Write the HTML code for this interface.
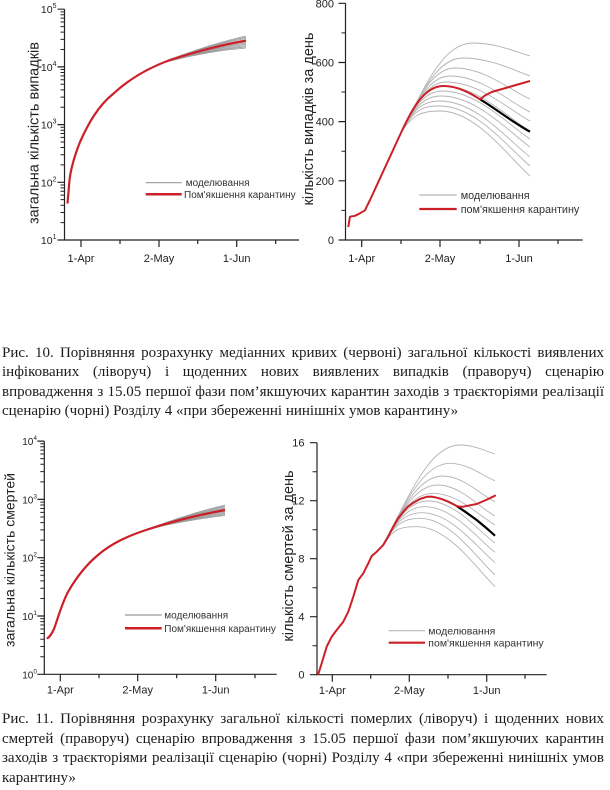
<!DOCTYPE html>
<html>
<head>
<meta charset="utf-8">
<style>
  html,body{margin:0;padding:0;background:#fff;}
  body{width:610px;height:790px;position:relative;overflow:hidden;}
  svg{position:absolute;left:0;top:0;}
  .cap{position:absolute;left:2px;width:602px;font-family:"Liberation Serif","Noto Serif CJK SC",serif;font-size:15px;color:#1c1c1c;}
  .cap div{white-space:nowrap;}
  .cap .j{text-align:justify;text-align-last:justify;}
  .c1{top:343.5px;line-height:19.5px;}
  .c2{top:710.3px;line-height:19.5px;}
</style>
</head>
<body>
<svg width="610" height="790" viewBox="0 0 610 790" xmlns="http://www.w3.org/2000/svg" font-family="Liberation Sans, Noto Sans CJK SC, sans-serif">
  <!-- ========== TOP-LEFT ========== -->
  <g fill="none" stroke="#222" stroke-width="1.2">
    <path d="M64.5,9.2V240H299"/>
    <path d="M57.5,240H64.5M57.5,182.3H64.5M57.5,124.6H64.5M57.5,66.9H64.5M57.5,9.2H64.5"/>
    <path stroke-width="1" d="M60.5,222.63H64.5M60.5,212.47H64.5M60.5,205.26H64.5M60.5,199.67H64.5M60.5,195.11H64.5M60.5,191.24H64.5M60.5,187.9H64.5M60.5,184.95H64.5
      M60.5,164.93H64.5M60.5,154.77H64.5M60.5,147.56H64.5M60.5,141.97H64.5M60.5,137.41H64.5M60.5,133.54H64.5M60.5,130.2H64.5M60.5,127.25H64.5
      M60.5,107.23H64.5M60.5,97.07H64.5M60.5,89.86H64.5M60.5,84.27H64.5M60.5,79.71H64.5M60.5,75.84H64.5M60.5,72.5H64.5M60.5,69.55H64.5
      M60.5,49.53H64.5M60.5,39.37H64.5M60.5,32.16H64.5M60.5,26.57H64.5M60.5,22.01H64.5M60.5,18.14H64.5M60.5,14.8H64.5M60.5,11.85H64.5"/>
    <path d="M81,240v7M159,240v7M236.7,240v7M120,240v4M197.7,240v4M275.7,240v4"/>
  </g>
  <g font-size="10.5" fill="#222" text-anchor="end">
    <text x="56.5" y="244">10<tspan font-size="7" dy="-5">1</tspan></text>
    <text x="56.5" y="186.3">10<tspan font-size="7" dy="-5">2</tspan></text>
    <text x="56.5" y="128.6">10<tspan font-size="7" dy="-5">3</tspan></text>
    <text x="56.5" y="70.9">10<tspan font-size="7" dy="-5">4</tspan></text>
    <text x="56.5" y="13.2">10<tspan font-size="7" dy="-5">5</tspan></text>
  </g>
  <g font-size="11" fill="#222" text-anchor="middle">
    <text x="81" y="262">1-Apr</text>
    <text x="159" y="262">2-May</text>
    <text x="236.7" y="262">1-Jun</text>
  </g>
  <text transform="translate(38.5,133) rotate(-90)" text-anchor="middle" font-size="14.5" fill="#222">загальна кількість випадків</text>
  <g fill="none" stroke="#9a9a9a" stroke-width="0.8">
    <path d="M142,73 C152,68 161,63 170,59.3 C195,50.35 220,41.7 246,36"/>
    <path d="M142,73 C152,68 161,63 170,59.5 C195,50.8 220,42.55 246,37.2"/>
    <path d="M142,73 C152,68 161,63 170,59.65 C195,51.2 220,43.4 246,38.4"/>
    <path d="M142,73 C152,68 161,63 170,59.8 C195,51.6 220,44.2 246,39.6"/>
    <path d="M142,73 C152,68 161,63 170,60 C195,52.05 220,45.05 246,40.8"/>
    <path d="M142,73 C152,68 161,63 170,60.2 C195,52.45 220,45.9 246,42"/>
    <path d="M142,73 C152,68 161,63 170,60.4 C195,52.9 220,46.75 246,43.2"/>
    <path d="M142,73 C152,68 161,63 170,60.55 C195,53.3 220,47.6 246,44.4"/>
    <path d="M142,73 C152,68 161,63 170,60.7 C195,53.7 220,48.45 246,45.6"/>
    <path d="M142,73 C152,68 161,63 170,60.9 C195,54.15 220,49.25 246,46.8"/>
    <path d="M142,73 C152,68 161,63 170,61.1 C195,54.55 220,50.1 246,48"/>
  </g>
  <path fill="none" stroke="#cc1f27" stroke-width="2.2" stroke-linejoin="round" d="M67.5,203.5 L69.5,180 C71,168 74,157 80,142 C88,124 98,106 113,94 C128,80 148,68 170,60 C195,52 220,45 246,40.7"/>
  <path d="M145.7,182.7H181.7" stroke="#9a9a9a" stroke-width="1.2"/>
  <path d="M145.7,194.3H181.7" stroke="#cc1f27" stroke-width="2.5"/>
  <g font-size="10" fill="#333">
    <text x="185.7" y="186.2">моделювання</text>
    <text x="184" y="197.8">Пом'якшення карантину</text>
  </g>

  <!-- ========== TOP-RIGHT ========== -->
  <g fill="none" stroke="#222" stroke-width="1.2">
    <path d="M345.5,3.3V240H582.7"/>
    <path d="M338.5,240H345.5M338.5,180.8H345.5M338.5,121.6H345.5M338.5,62.5H345.5M338.5,3.3H345.5"/>
    <path stroke-width="1" d="M341.5,210.4H345.5M341.5,151.2H345.5M341.5,92H345.5M341.5,32.9H345.5"/>
    <path d="M361.7,240v7M440,240v7M519,240v7M401,240v4M480,240v4M558,240v4"/>
  </g>
  <g font-size="11" fill="#222" text-anchor="end">
    <text x="334" y="244">0</text>
    <text x="334" y="184.8">200</text>
    <text x="334" y="125.6">400</text>
    <text x="334" y="66.5">600</text>
    <text x="334" y="7.3">800</text>
  </g>
  <g font-size="11" fill="#222" text-anchor="middle">
    <text x="361.7" y="262">1-Apr</text>
    <text x="440" y="262">2-May</text>
    <text x="519" y="262">1-Jun</text>
  </g>
  <text transform="translate(313,119) rotate(-90)" text-anchor="middle" font-size="14.5" fill="#222">кількість випадків за день</text>
  <g fill="none" stroke="#b4b4b4" stroke-width="0.9">
    <path d="M400,135 C425.6,83.8 443.8,43 473,43 C495.8,43 515.75,51.7 530,56"/>
    <path d="M400,135 C422,91 437.8,58 463,58 C489.8,58 513.25,70 530,76"/>
    <path d="M400,135 C419.25,96.5 433,68 455,68 C485,68 511.25,91.1 530,99"/>
    <path d="M400,135 C417.5,100 430,76 450,76 C482,76 510,102.4 530,112"/>
    <path d="M400,135 C416.1,102.8 427.6,82 446,82 C479.6,82 509,109.7 530,121"/>
    <path d="M400,135 C415,105 425.8,86 443,86 C477.8,86 508.25,118 530,131"/>
    <path d="M400,135 C414.7,105.6 425.2,91 442,91 C477.2,91 508,124.5 530,139"/>
    <path d="M400,135 C414.35,106.3 424.6,96 441,96 C476.6,96 507.75,131 530,147"/>
    <path d="M400,135 C414,107 424,101 440,101 C476,101 507.5,139.5 530,157"/>
    <path d="M400,135 C414,108 424,106 440,106 C476,106 507.5,147.1 530,166"/>
    <path d="M400,135 C412,113 424,111 440,111 C476,111 507.5,155.75 530,176"/>
  </g>
  <path fill="none" stroke="#000" stroke-width="2.2" d="M480,99.3 C495,108 512,122 530,131.7"/>
  <path fill="none" stroke="#cc1f27" stroke-width="2" stroke-linejoin="round" d="M348.3,227 L350,216.7 L355,215.8 L360,213.3 L365,210.3 L367.5,205 L370,200 L400,135 C410,113 423,86 443.3,86 C458,86 470,93 480,99.3 L485,95.5 L491.7,92 L530,81"/>
  <path d="M419.3,195H456.7" stroke="#b4b4b4" stroke-width="1.2"/>
  <path d="M419.3,209H456.7" stroke="#cc1f27" stroke-width="2.2"/>
  <g font-size="10.8" fill="#333">
    <text x="460.7" y="198.8">моделювання</text>
    <text x="460.7" y="212.8">пом'якшення карантину</text>
  </g>

  <!-- ========== BOTTOM-LEFT ========== -->
  <g fill="none" stroke="#222" stroke-width="1.2">
    <path d="M44.3,441.1V674.3H276.7"/>
    <path d="M37.3,674.3H44.3M37.3,616H44.3M37.3,557.7H44.3M37.3,499.4H44.3M37.3,441.1H44.3"/>
    <path stroke-width="1" d="M40.3,656.75H44.3M40.3,646.49H44.3M40.3,639.2H44.3M40.3,633.55H44.3M40.3,628.94H44.3M40.3,625.04H44.3M40.3,621.66H44.3M40.3,618.68H44.3
      M40.3,598.45H44.3M40.3,588.19H44.3M40.3,580.9H44.3M40.3,575.25H44.3M40.3,570.64H44.3M40.3,566.74H44.3M40.3,563.36H44.3M40.3,560.38H44.3
      M40.3,540.15H44.3M40.3,529.89H44.3M40.3,522.6H44.3M40.3,516.95H44.3M40.3,512.34H44.3M40.3,508.44H44.3M40.3,505.06H44.3M40.3,502.08H44.3
      M40.3,481.85H44.3M40.3,471.59H44.3M40.3,464.3H44.3M40.3,458.65H44.3M40.3,454.04H44.3M40.3,450.14H44.3M40.3,446.76H44.3M40.3,443.78H44.3"/>
    <path d="M60.3,674.3v7M137.7,674.3v7M215.7,674.3v7M99,674.3v4M176.7,674.3v4M255,674.3v4"/>
  </g>
  <g font-size="10" fill="#222" text-anchor="end">
    <text x="37" y="678.3">10<tspan font-size="6.5" dy="-5">0</tspan></text>
    <text x="37" y="620">10<tspan font-size="6.5" dy="-5">1</tspan></text>
    <text x="37" y="561.7">10<tspan font-size="6.5" dy="-5">2</tspan></text>
    <text x="37" y="503.4">10<tspan font-size="6.5" dy="-5">3</tspan></text>
    <text x="37" y="445.1">10<tspan font-size="6.5" dy="-5">4</tspan></text>
  </g>
  <g font-size="11" fill="#222" text-anchor="middle">
    <text x="60.3" y="693.5">1-Apr</text>
    <text x="137.7" y="693.5">2-May</text>
    <text x="215.7" y="693.5">1-Jun</text>
  </g>
  <text transform="translate(14.5,560) rotate(-90)" text-anchor="middle" font-size="14" fill="#222">загальна кількість смертей</text>
  <g fill="none" stroke="#9a9a9a" stroke-width="0.8">
    <path d="M120.5,540.3 C128,536.5 137,533 146,530 C170,520.5 198,511.5 225,505"/>
    <path d="M120.5,540.3 C128,536.5 137,533 146,530 C170,520.8 198,512.2 225,506.05"/>
    <path d="M120.5,540.3 C128,536.5 137,533 146,530 C170,521.1 198,513 225,507.1"/>
    <path d="M120.5,540.3 C128,536.5 137,533 146,530 C170,521.4 198,513.7 225,508.15"/>
    <path d="M120.5,540.3 C128,536.5 137,533 146,530 C170,521.8 198,514.4 225,509.2"/>
    <path d="M120.5,540.3 C128,536.5 137,533 146,530 C170,522.1 198,515.2 225,510.25"/>
    <path d="M120.5,540.3 C128,536.5 137,533 146,530 C170,522.4 198,515.9 225,511.3"/>
    <path d="M120.5,540.3 C128,536.5 137,533 146,530 C170,522.7 198,516.6 225,512.35"/>
    <path d="M120.5,540.3 C128,536.5 137,533 146,530 C170,523 198,517.4 225,513.4"/>
    <path d="M120.5,540.3 C128,536.5 137,533 146,530 C170,523.3 198,518.1 225,514.45"/>
    <path d="M120.5,540.3 C128,536.5 137,533 146,530 C170,523.65 198,518.85 225,515.5"/>
  </g>
  <path fill="none" stroke="#cc1f27" stroke-width="2.2" stroke-linejoin="round" d="M46.7,638.3 C49,638 51,635 54,629 C58,618 62,603 68,592 C76,578 86,565 98,555 C112,543 128,536 146,530 C170,522 198,515 225,510"/>
  <path d="M125,615H161.7" stroke="#9a9a9a" stroke-width="1.2"/>
  <path d="M125,628.3H161.7" stroke="#cc1f27" stroke-width="2.5"/>
  <g font-size="10" fill="#333">
    <text x="164.3" y="618.5">моделювання</text>
    <text x="164.3" y="631.8">Пом'якшення карантину</text>
  </g>

  <!-- ========== BOTTOM-RIGHT ========== -->
  <g fill="none" stroke="#222" stroke-width="1.2">
    <path d="M317,442.7V674.7H546.7"/>
    <path d="M310,674.7H317M310,616.7H317M310,558.7H317M310,500.7H317M310,442.7H317"/>
    <path stroke-width="1" d="M312.5,645.7H317M312.5,587.7H317M312.5,529.7H317M312.5,471.7H317"/>
    <path d="M332.3,674.7v7M409.3,674.7v7M486.7,674.7v7M370.7,674.7v4M448,674.7v4M525,674.7v4"/>
  </g>
  <g font-size="11" fill="#222" text-anchor="end">
    <text x="304.5" y="678.7">0</text>
    <text x="304.5" y="620.7">4</text>
    <text x="304.5" y="562.7">8</text>
    <text x="304.5" y="504.7">12</text>
    <text x="304.5" y="446.7">16</text>
  </g>
  <g font-size="11" fill="#222" text-anchor="middle">
    <text x="332.3" y="694">1-Apr</text>
    <text x="409.3" y="694">2-May</text>
    <text x="486.7" y="694">1-Jun</text>
  </g>
  <text transform="translate(293,556) rotate(-90)" text-anchor="middle" font-size="14.5" fill="#222">кількість смертей за день</text>
  <g fill="none" stroke="#b4b4b4" stroke-width="0.9">
    <path d="M381.7,546.7 C409.1,497.4 428.7,445 460,445 C474,445 486.25,451.4 495,454"/>
    <path d="M381.7,546.7 C405.6,503.7 422.7,463.3 450,463.3 C468,463.3 483.75,476.5 495,480.7"/>
    <path d="M381.7,546.7 C403.2,508 418.5,476 443,476 C463.8,476 482,496 495,501.7"/>
    <path d="M381.7,546.7 C401.4,511.2 415.5,485 438,485 C460.8,485 480.75,508.7 495,516"/>
    <path d="M381.7,546.7 C399.7,514.3 412.5,493.3 433,493.3 C457.8,493.3 479.5,516 495,525"/>
    <path d="M381.7,546.7 C398.6,516.3 410.7,496.7 430,496.7 C456,496.7 478.75,525.1 495,535.7"/>
    <path d="M381.7,546.7 C397.9,517.5 409.5,501 428,501 C454.8,501 478.25,530.9 495,543"/>
    <path d="M381.7,546.7 C396.9,519.3 407.7,506.7 425,506.7 C453,506.7 477.5,538.5 495,552.3"/>
    <path d="M381.7,546.7 C395.8,521.3 405.9,512.7 422,512.7 C451.2,512.7 476.75,547 495,562.7"/>
    <path d="M381.7,546.7 C395.1,522.6 404.7,518.3 420,518.3 C450,518.3 476.25,557.6 495,575"/>
    <path d="M381.7,546.7 C394.1,526.7 402.9,526.7 417,526.7 C448.2,526.7 475.5,567.2 495,586.7"/>
  </g>
  <path fill="none" stroke="#000" stroke-width="2.2" stroke-linejoin="round" d="M456.7,506 L466,512.3 L476.7,520 L486,527.7 L495,535.7"/>
  <path fill="none" stroke="#cc1f27" stroke-width="2" stroke-linejoin="round" stroke-linecap="round" d="M318.3,674 L321.7,663.3 L326.7,646.7 L331.7,636.7 L336.7,630 L343.3,621.7 L348.3,611.7 L353.3,596.7 L358.3,580 L363.3,573.3 L368.3,563.3 L371.7,556 L376.7,551.7 L383.3,545 L388,537 L393.3,526.7 L398,518.5 L403.3,511.7 L408,506.5 L413.3,502.7 L420,499 L426.7,496.8 L431.7,496.6 L436.7,497.7 L442,499.2 L448.3,501.7 L452.5,503.8 L456.7,506 L460,506.8 L463.3,506.7 L470,505.3 L476.7,504 L486,500 L495,495.7"/>
  <path d="M388.7,630.7H425" stroke="#b4b4b4" stroke-width="1.2"/>
  <path d="M388.7,642.7H425" stroke="#cc1f27" stroke-width="2.2"/>
  <g font-size="10.5" fill="#333">
    <text x="428.3" y="634.4">моделювання</text>
    <text x="428.3" y="646.4">пом'якшення карантину</text>
  </g>
</svg>

<div class="cap c1">
  <div class="j">Рис. 10. Порівняння розрахунку медіанних кривих (червоні) загальної кількості виявлених</div>
  <div class="j">інфікованих (ліворуч) і щоденних нових виявлених випадків (праворуч) сценарію</div>
  <div class="j">впровадження з 15.05 першої фази пом’якшуючих карантин заходів з траєкторіями реалізації</div>
  <div>сценарію (чорні) Розділу 4 «при збереженні нинішніх умов карантину»</div>
</div>
<div class="cap c2">
  <div class="j">Рис. 11. Порівняння розрахунку загальної кількості померлих (ліворуч) і щоденних нових</div>
  <div class="j">смертей (праворуч) сценарію впровадження з 15.05 першої фази пом’якшуючих карантин</div>
  <div class="j">заходів з траєкторіями реалізації сценарію (чорні) Розділу 4 «при збереженні нинішніх умов</div>
  <div>карантину»</div>
</div>
</body>
</html>
